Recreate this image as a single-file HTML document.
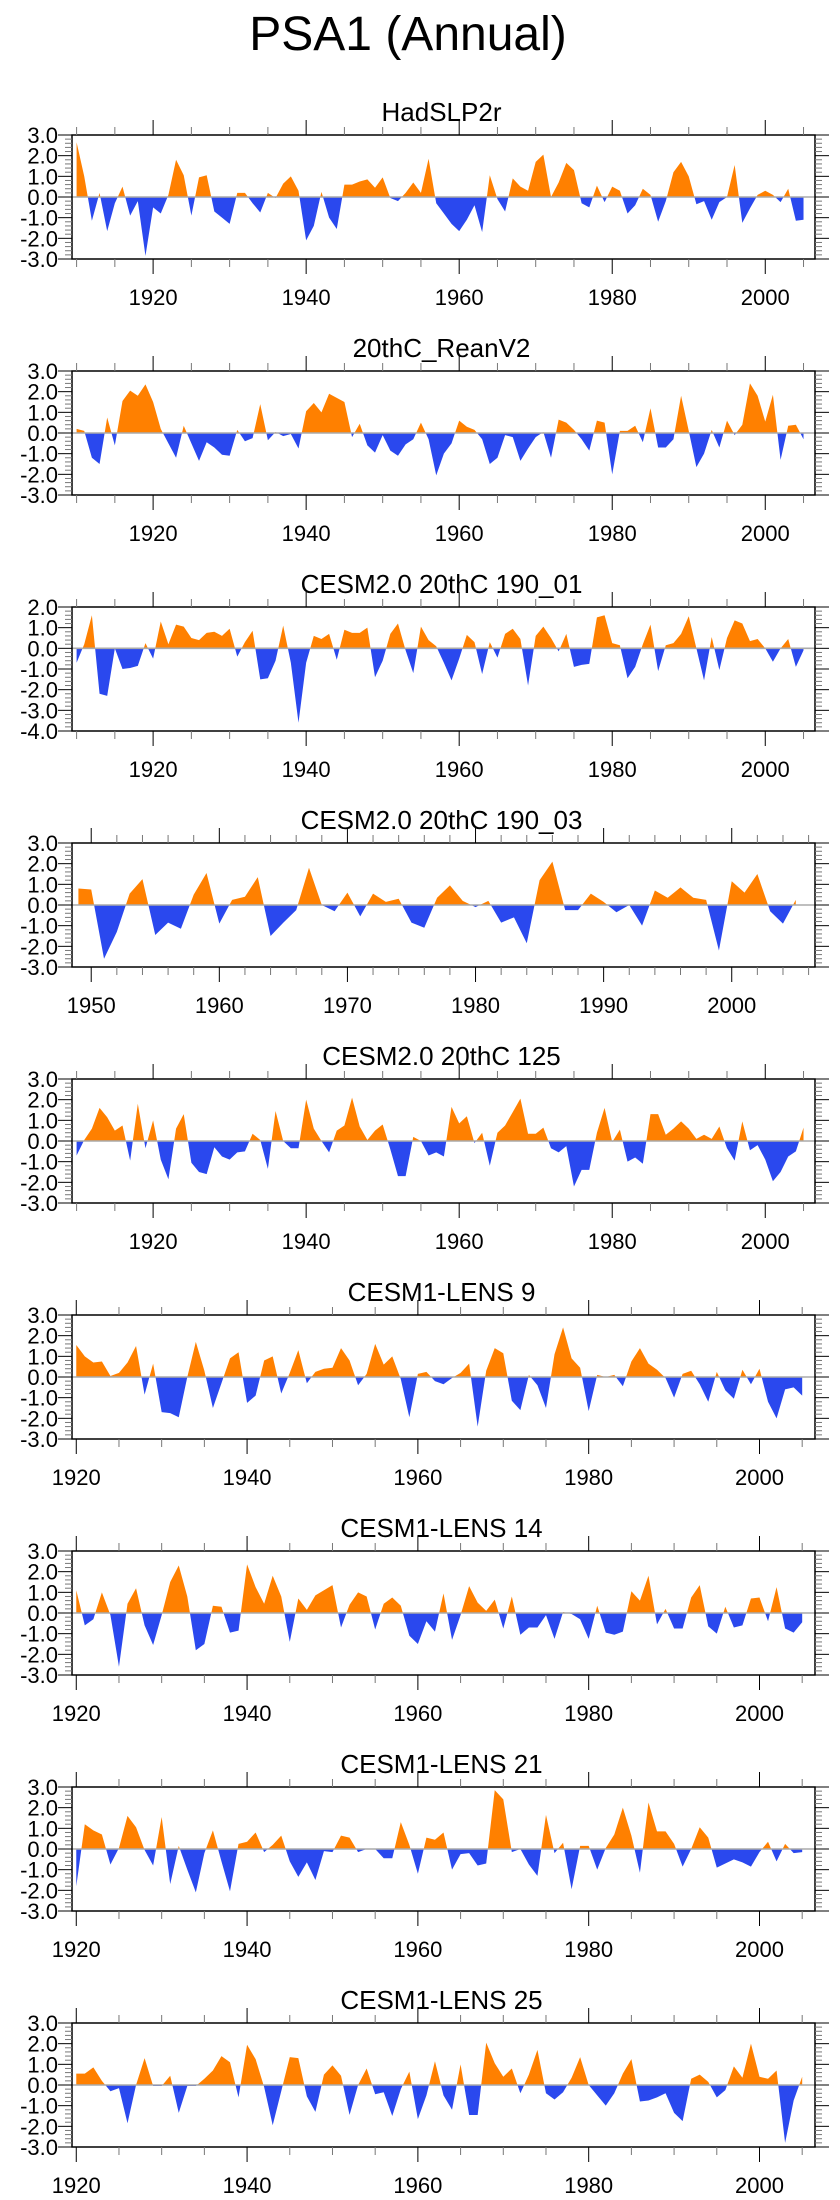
<!DOCTYPE html>
<html><head><meta charset="utf-8"><style>
html,body{margin:0;padding:0;background:#fff;}
svg{display:block;font-family:"Liberation Sans",Arial,sans-serif;}
</style></head><body>
<svg id="chart" width="840" height="2200" viewBox="0 0 840 2200" xmlns="http://www.w3.org/2000/svg">
<text x="408" y="50" text-anchor="middle" font-size="48" fill="#000">PSA1 (Annual)</text>
</svg>
<script>
const titles = ["HadSLP2r","20thC_ReanV2","CESM2.0 20thC 190_01","CESM2.0 20thC 190_03","CESM2.0 20thC 125","CESM1-LENS 9","CESM1-LENS 14","CESM1-LENS 21","CESM1-LENS 25"];
const startYears = [1910,1910,1910,1949,1910,1920,1920,1920,1920];
const hadslp2r = [2.65,1.0,-1.15,0.2,-1.65,-0.3,0.5,-0.9,-0.2,-2.85,-0.5,-0.8,0.1,1.8,1.05,-0.9,0.95,1.05,-0.7,-1.0,-1.3,0.2,0.2,-0.3,-0.75,0.2,-0.05,0.65,1.0,0.3,-2.1,-1.4,0.25,-1.0,-1.55,0.6,0.6,0.75,0.85,0.45,0.95,-0.05,-0.2,0.2,0.7,0.2,1.85,-0.3,-0.8,-1.3,-1.65,-1.1,-0.4,-1.7,1.05,-0.1,-0.7,0.9,0.5,0.3,1.7,2.05,0.0,0.7,1.65,1.3,-0.3,-0.5,0.55,-0.25,0.5,0.3,-0.8,-0.4,0.4,0.1,-1.2,-0.2,1.2,1.7,1.0,-0.35,-0.2,-1.1,-0.25,0.0,1.55,-1.25,-0.55,0.1,0.3,0.1,-0.25,0.4,-1.15,-1.1];
const reanV2 = [0.2,0.1,-1.2,-1.5,0.75,-0.6,1.55,2.05,1.8,2.35,1.5,0.2,-0.5,-1.2,0.35,-0.5,-1.35,-0.45,-0.7,-1.05,-1.1,0.15,-0.4,-0.25,1.4,-0.35,0.05,-0.15,-0.05,-0.75,1.05,1.45,1.0,1.9,1.7,1.5,-0.2,0.45,-0.6,-0.95,-0.1,-0.85,-1.1,-0.55,-0.3,0.5,-0.3,-2.05,-1.0,-0.5,0.6,0.3,0.15,-0.3,-1.5,-1.2,-0.1,-0.2,-1.35,-0.75,-0.2,0.05,-1.2,0.65,0.5,0.15,-0.3,-0.85,0.6,0.5,-2.0,0.1,0.1,0.35,-0.45,1.2,-0.7,-0.7,-0.3,1.8,0.1,-1.65,-1.0,0.15,-0.7,0.6,-0.1,0.4,2.4,1.8,0.55,1.85,-1.3,0.35,0.4,-0.3];
const cesm2_190_01 = [-0.7,0.2,1.6,-2.2,-2.3,0.0,-1.0,-0.95,-0.85,0.25,-0.5,1.3,0.2,1.15,1.05,0.5,0.4,0.75,0.8,0.6,0.95,-0.4,0.3,0.85,-1.5,-1.45,-0.6,1.1,-0.7,-3.6,-0.7,0.6,0.45,0.7,-0.55,0.9,0.75,0.75,1.0,-1.4,-0.6,0.7,1.2,-0.1,-1.2,1.05,0.4,0.1,-0.7,-1.55,-0.5,0.65,0.3,-1.25,0.3,-0.45,0.7,0.95,0.45,-1.8,0.6,1.05,0.5,-0.15,0.7,-0.9,-0.8,-0.75,1.5,1.6,0.25,0.15,-1.45,-0.9,0.2,1.15,-1.1,0.15,0.25,0.7,1.55,0.0,-1.55,0.55,-1.05,0.5,1.35,1.2,0.35,0.45,0.0,-0.65,0.0,0.45,-0.9,-0.1];
const cesm2_190_03 = [0.8,0.75,-2.6,-1.3,0.55,1.25,-1.45,-0.85,-1.15,0.5,1.55,-0.9,0.25,0.4,1.35,-1.5,-0.85,-0.25,1.8,0.0,-0.3,0.6,-0.55,0.55,0.15,0.3,-0.85,-1.1,0.35,0.95,0.2,-0.1,0.2,-0.85,-0.6,-1.85,1.2,2.1,-0.25,-0.25,0.55,0.15,-0.35,0.0,-1.0,0.7,0.35,0.85,0.35,0.25,-2.2,1.15,0.6,1.5,-0.3,-0.9,0.25];
const cesm2_125 = [-0.7,0.05,0.6,1.6,1.15,0.5,0.75,-0.95,1.8,-0.35,1.0,-0.9,-1.85,0.6,1.3,-1.05,-1.5,-1.6,-0.3,-0.75,-0.9,-0.55,-0.5,0.35,0.05,-1.35,1.45,0.0,-0.35,-0.35,2.0,0.6,0.0,-0.55,0.5,0.75,2.1,0.7,0.05,0.5,0.8,-0.4,-1.7,-1.7,0.2,0.0,-0.7,-0.55,-0.75,1.65,0.85,1.2,-0.1,0.4,-1.2,0.4,0.75,1.4,2.05,0.35,0.35,0.65,-0.35,-0.55,-0.25,-2.2,-1.4,-1.4,0.4,1.6,-0.05,0.55,-1.0,-0.8,-1.1,1.3,1.3,0.3,0.6,0.95,0.6,0.1,0.3,0.1,0.7,-0.35,-0.95,0.95,-0.45,-0.2,-0.9,-1.95,-1.5,-0.75,-0.5,0.65];
const lens9 = [1.55,1.0,0.7,0.75,0.05,0.2,0.7,1.5,-0.85,0.65,-1.7,-1.75,-1.95,0.0,1.7,0.3,-1.5,-0.3,0.9,1.2,-1.25,-0.9,0.8,1.0,-0.8,0.2,1.3,-0.3,0.25,0.4,0.45,1.4,0.8,-0.4,0.15,1.6,0.6,1.0,-0.1,-1.95,0.15,0.25,-0.2,-0.35,-0.05,0.2,0.65,-2.4,0.3,1.4,1.15,-1.15,-1.6,0.1,-0.4,-1.5,1.1,2.4,0.9,0.45,-1.65,0.1,0.0,0.1,-0.45,0.75,1.4,0.65,0.35,-0.05,-1.0,0.15,0.3,-0.35,-1.2,0.25,-0.65,-1.05,0.35,-0.35,0.4,-1.2,-2.0,-0.6,-0.5,-0.9];
const lens14 = [1.1,-0.6,-0.3,1.0,-0.1,-2.6,0.45,1.2,-0.6,-1.55,-0.1,1.5,2.3,0.8,-1.8,-1.5,0.35,0.3,-0.95,-0.85,2.35,1.25,0.45,1.8,0.8,-1.4,0.7,0.15,0.85,1.1,1.35,-0.7,0.4,1.0,0.8,-0.8,0.45,0.75,0.35,-1.1,-1.5,-0.4,-0.9,0.95,-1.3,-0.1,1.3,0.5,0.1,0.65,-0.75,0.8,-1.05,-0.7,-0.7,-0.1,-1.25,0.05,-0.05,-0.3,-1.25,0.35,-0.95,-1.05,-0.9,1.05,0.6,1.8,-0.55,0.2,-0.75,-0.75,0.75,1.35,-0.65,-1.0,0.3,-0.7,-0.6,0.7,0.75,-0.4,1.25,-0.75,-0.95,-0.45];
const lens21 = [-1.8,1.2,0.9,0.7,-0.75,0.05,1.6,1.05,-0.05,-0.8,1.55,-1.7,0.15,-1.0,-2.1,-0.2,0.9,-0.6,-2.05,0.25,0.35,0.8,-0.15,0.2,0.65,-0.6,-1.35,-0.65,-1.5,-0.1,-0.15,0.65,0.55,-0.15,0.0,0.0,-0.45,-0.45,1.3,0.2,-1.2,0.55,0.45,0.8,-1.0,-0.25,-0.2,-0.8,-0.7,2.85,2.4,-0.15,0.0,-0.75,-1.3,1.65,-0.2,0.3,-1.95,0.15,0.15,-1.0,0.05,0.7,2.0,0.65,-1.15,2.25,0.85,0.85,0.25,-0.85,0.0,1.05,0.55,-0.9,-0.7,-0.5,-0.65,-0.85,-0.15,0.35,-0.6,0.25,-0.2,-0.15];
const lens25 = [0.55,0.55,0.85,0.2,-0.3,-0.15,-1.85,0.0,1.3,-0.05,-0.05,0.45,-1.35,-0.05,-0.05,0.3,0.7,1.4,1.1,-0.6,1.95,1.25,-0.1,-1.95,-0.3,1.35,1.3,-0.55,-1.3,0.5,0.95,0.45,-1.45,0.0,0.8,-0.45,-0.35,-1.5,-0.2,0.65,-1.65,-0.5,1.15,-0.5,-1.2,1.0,-1.45,-1.45,2.05,1.05,0.4,0.8,-0.4,0.5,1.7,-0.4,-0.7,-0.35,0.35,1.35,0.0,-0.5,-1.0,-0.4,0.55,1.25,-0.8,-0.75,-0.6,-0.4,-1.35,-1.75,0.3,0.5,0.15,-0.6,-0.25,0.9,0.35,2.0,0.4,0.3,0.7,-2.8,-0.75,0.4];
const series = [hadslp2r, reanV2, cesm2_190_01, cesm2_190_03, cesm2_125, lens9, lens14, lens21, lens25];
const yMins = [-3,-3,-4,-3,-3,-3,-3,-3,-3];
const yMaxs = [3,3,2,3,3,3,3,3,3];
const xMins = [1909.4,1909.4,1909.4,1948.5,1909.4,1919.5,1919.5,1919.5,1919.5];
const xMax = 2006.5;
const majorSteps = [20,20,20,10,20,20,20,20,20];
const minorSteps = [5,5,5,2,5,5,5,5,5];
const firstLabels = [1920,1920,1920,1950,1920,1920,1920,1920,1920];

const NS = "http://www.w3.org/2000/svg";
const svg = document.getElementById("chart");
const L = 72, R = 815, H = 124, TOP0 = 135, GAP = 236;
function mk(tag, attrs, parent){ const e = document.createElementNS(NS, tag); for (const k in attrs) e.setAttribute(k, attrs[k]); (parent||svg).appendChild(e); return e; }

series.forEach((vals, p) => {
  const top = TOP0 + GAP*p, bot = top + H;
  const g = mk("g", {});
  
  
  const xs = yr => L + (yr - xMins[p]) / (xMax - xMins[p]) * (R - L);
  const ys = v => top + (yMaxs[p] - v) / (yMaxs[p] - yMins[p]) * H;
  const y0 = ys(0);
  const t = mk("text", {x: (L+R)/2 - 2, y: top-14, "text-anchor":"middle", "font-size":"26", fill:"#000"}, g);
  t.textContent = titles[p];
  
  
  let pts = vals.map((v,i) => xs(startYears[p]+i).toFixed(2) + "," + ys(v).toFixed(2));
  pts.push(xs(startYears[p]+vals.length-1).toFixed(2)+","+y0.toFixed(2));
  pts.push(xs(startYears[p]).toFixed(2)+","+y0.toFixed(2));
  const cu = mk("clipPath", {id:"up"+p}, g); mk("rect", {x:L, y:top, width:R-L, height:y0-top}, cu);
  const cd = mk("clipPath", {id:"dn"+p}, g); mk("rect", {x:L, y:y0, width:R-L, height:bot-y0}, cd);
  const pu = mk("polygon", {points: pts.join(" "), fill:"#FF8000", "clip-path":"url(#up"+p+")"}, g);
  
  
  const pd = mk("polygon", {points: pts.join(" "), fill:"#2A48EE", "clip-path":"url(#dn"+p+")"}, g);
  
  
  const zl = mk("line", {x1:L, x2:R, y1:y0, y2:y0, stroke:"#aaaaaa", "stroke-width":"1.6"}, g);
  
  
  const fr = mk("rect", {x:L, y:top, width:R-L, height:H, fill:"none", stroke:"#000", "stroke-width":"1.5"}, g);
  
  
  for (let k = Math.round(yMins[p]*5); k <= Math.round(yMaxs[p]*5); k++) {
    const v = k/5, yy = ys(v), major = (k % 5 === 0), len = major ? 14 : 7;
    mk("line", {x1:L-len, x2:L, y1:yy, y2:yy, stroke:major?"#000":"#777", "stroke-width":"1"}, g);
    mk("line", {x1:R, x2:R+len, y1:yy, y2:yy, stroke:major?"#000":"#777", "stroke-width":"1"}, g);
    if (major) {
      const lb = mk("text", {x:L-14, y:yy+8, "text-anchor":"end", "font-size":"22", fill:"#000"}, g);
      lb.textContent = v.toFixed(1);
      
      
    }
  }
  const ms = minorSteps[p];
  for (let yr = Math.ceil(xMins[p]/ms)*ms; yr <= xMax; yr += ms) {
    const xx = xs(yr), major = (yr % majorSteps[p] === 0), len = major ? 15 : 8;
    mk("line", {x1:xx, x2:xx, y1:top-len, y2:top, stroke:major?"#000":"#777", "stroke-width":"1"}, g);
    mk("line", {x1:xx, x2:xx, y1:bot, y2:bot+len, stroke:major?"#000":"#777", "stroke-width":"1"}, g);
  }
  for (let yr = firstLabels[p]; yr <= xMax; yr += majorSteps[p]) {
    const lb = mk("text", {x:xs(yr), y:top+170, "text-anchor":"middle", "font-size":"22", fill:"#000"}, g);
    lb.textContent = yr;
    
    
  }
});
</script>
</body></html>
